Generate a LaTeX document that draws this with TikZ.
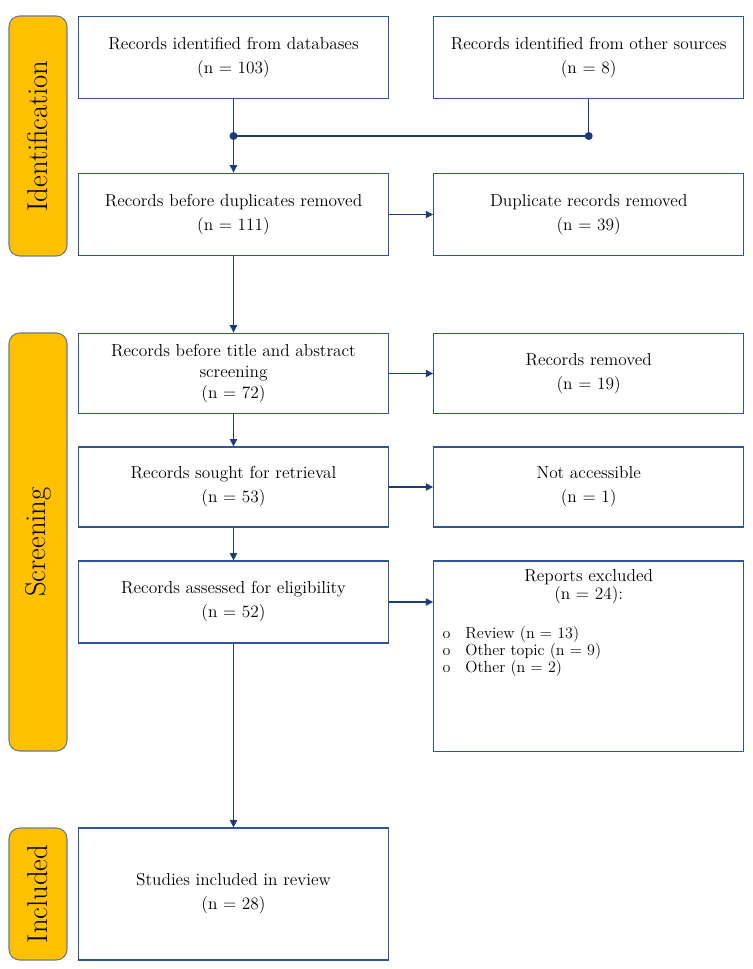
\documentclass[tikz,border=0pt]{standalone}
\usepackage{tikz}
\usetikzlibrary{arrows.meta,positioning}
\definecolor{prBox}{HTML}{2F5597}
\definecolor{prArrow}{HTML}{1F3A7A}
\definecolor{prPhase}{HTML}{FFC000}
\definecolor{prPhaseEdge}{HTML}{6A7A95}
\tikzset{
  prbox/.style={
    draw=prBox, line width=0.9pt, fill=white, minimum width=232.5pt,
    minimum height=62pt, inner sep=2pt, align=center,
    font=\fontsize{13}{18}\selectfont
  },
  phase/.style={
    draw=prPhaseEdge, fill=prPhase, line width=0.8pt, rounded corners=8pt,
    rotate=90, minimum height=43.5pt, font=\fontsize{21.5}{24}\selectfont
  },
  flow/.style={-{Triangle[length=5.5pt,width=5.5pt]}, line width=0.8pt, prArrow},
  joint/.style={line width=0.8pt, prArrow},
  dot/.style={circle, fill=prArrow, inner sep=0pt, minimum size=6pt}
}

\begin{document}
\begin{tikzpicture}[x=0.75pt, y=-0.75pt]
  \useasboundingbox (0,0) rectangle (752,969);

  % phases
  \node[phase, minimum width=180pt] (pid) at (38,136) {Identification};
  \node[phase, minimum width=313.5pt] (pscr) at (38,542) {Screening};
  \node[phase, minimum width=99pt] (pinc) at (38,894) {Included};

  % main column
  \node[prbox] (dbs) at (233.5,57.5) {Records identified from databases\\(n = 103)};
  \node[prbox] (dup) at (233.5,214.5) {Records before duplicates removed\\(n = 111)};
  \node[prbox, minimum height=60.5pt, font=\fontsize{13}{16}\selectfont] (title) at (233.5,373.5)
    {Records before title and abstract\\screening\\(n = 72)};
  \node[prbox, minimum height=60pt] (sought) at (233.5,487) {Records sought for retrieval\\(n = 53)};
  \node[prbox, minimum height=61.5pt] (assessed) at (233.5,602) {Records assessed for eligibility\\(n = 52)};
  \node[prbox, minimum height=99pt] (incl) at (233.5,894) {Studies included in review\\(n = 28)};

  % side column
  \node[prbox, right=33pt of dbs] (other) {Records identified from other sources\\(n = 8)};
  \node[prbox, right=33pt of dup] (duprem) {Duplicate records removed\\(n = 39)};
  \node[prbox, minimum height=60.5pt, right=33pt of title] (removed) {Records removed\\(n = 19)};
  \node[prbox, minimum height=60pt, right=33pt of sought] (noacc) {Not accessible\\(n = 1)};
  \node[prbox, right=33pt of assessed.north east, anchor=north west, minimum height=143pt] (excl)
    {\parbox[c][137pt][t]{226pt}{\vspace{3pt}\centering\fontsize{13}{13.5}\selectfont
      Reports excluded\\(n = 24):\par
      \vspace{17pt}\raggedright\fontsize{12}{12.8}\selectfont
      \hspace*{3.5pt}\makebox[17pt][l]{o}Review (n = 13)\\
      \hspace*{3.5pt}\makebox[17pt][l]{o}Other topic (n = 9)\\
      \hspace*{3.5pt}\makebox[17pt][l]{o}Other (n = 2)\par}};

  % merge of the two sources
  \coordinate (jrow) at (0,136);
  \node[dot] (j1) at (dbs.south |- jrow) {};
  \node[dot] (j2) at (other.south |- jrow) {};
  \draw[joint] (dbs.south) -- (j1.center);
  \draw[joint] (other.south) -- (j2.center);
  \draw[joint] (j1.center) -- (j2.center);
  \draw[flow] (j1.center) -- (dup.north);

  % arrows
  \draw[flow] (dup.east) -- (duprem.west);
  \draw[flow] (dup.south) -- (title.north);
  \draw[flow] (title.east) -- (removed.west);
  \draw[flow] (title.south) -- (sought.north);
  \draw[flow] (sought.east) -- (noacc.west);
  \draw[flow] (sought.south) -- (assessed.north);
  \draw[flow] (assessed.east) -- (assessed.east -| excl.west);
  \draw[flow] (assessed.south) -- (incl.north);
\end{tikzpicture}
\end{document}
